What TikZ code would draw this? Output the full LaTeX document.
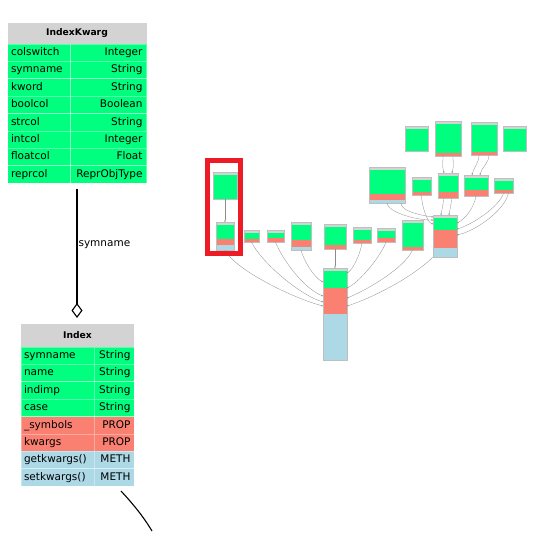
\documentclass[tikz,border=0pt]{standalone}
\usepackage{fontspec}
\setmainfont{DejaVu Sans}
\usetikzlibrary{arrows.meta}
\definecolor{hdrgray}{HTML}{D3D3D3}
\definecolor{attrgreen}{HTML}{00FF7F}
\definecolor{propsalmon}{HTML}{FA8072}
\definecolor{methblue}{HTML}{ADD8E6}
\definecolor{markred}{HTML}{ED1C24}
\newcommand{\rowfont}{\fontsize{10.5}{12}\selectfont}
\newcommand{\headfont}{\bfseries\fontsize{9.2}{11}\selectfont}
\tikzset{
  head/.style={rectangle, fill=hdrgray, anchor=north west, inner sep=0pt, outer sep=0pt, font=\headfont},
  cell/.style={rectangle, inner ysep=0pt, outer sep=0pt, minimum height=17.4pt, anchor=north west,
    text height=8pt, text depth=2.5pt, font=\rowfont, draw=white, draw opacity=0.35, line width=0.8pt},
  lcell/.style={cell, align=left},
  rcell/.style={cell, align=right},
  kwl/.style={lcell, text width=56pt, inner xsep=3.5pt},
  kwr/.style={rcell, text width=68pt, inner xsep=4pt},
  ixl/.style={lcell, text width=67pt, inner xsep=3pt},
  ixr/.style={rcell, text width=33pt, inner xsep=3.5pt},
  attr/.style={fill=attrgreen},
  prop/.style={fill=propsalmon},
  meth/.style={fill=methblue},
  aggr/.style={draw=black, line width=1.1pt, -{Diamond[open, length=15pt, width=11pt]}},
  minibox/.style={rectangle, draw=black!25, line width=0.3pt, inner sep=0pt, outer sep=0pt, anchor=north west},
  minilink/.style={draw=black!45, line width=0.3pt, -{Diamond[open, length=2pt, width=1.6pt]}},
  viewbox/.style={rectangle, draw=markred, line width=5pt, inner sep=0pt},
}
% small class of the overview: name, left, top, width, attr/prop/meth heights
\newcommand{\miniclass}[7]{%
  \fill[hdrgray] (#2,#3) rectangle ++(#4,3);
  \fill[attrgreen] (#2,#3+3) rectangle ++(#4,#5);
  \fill[propsalmon] (#2,#3+3+#5) rectangle ++(#4,#6);
  \fill[methblue] (#2,#3+3+#5+#6) rectangle ++(#4,#7);
  \node[minibox, minimum width=#4pt, minimum height={(3+#5+#6+#7)*1pt}] (#1) at (#2,#3) {};
}

\begin{document}
\begin{tikzpicture}[x=1pt, y=-1pt]
  \fill[white] (0,0) rectangle (536,538);
  \useasboundingbox (0,0) rectangle (536,538);

  % IndexKwarg
  \node[head, minimum width=139pt, minimum height=21.5pt] (kwHead) at (7.5,22.5) {IndexKwarg};
  \node[kwl, attr] (kwL1) at (kwHead.south west) {colswitch};
  \node[kwr, attr] (kwR1) at (kwL1.north east) {Integer};
  \node[kwl, attr] (kwL2) at (kwL1.south west) {symname};
  \node[kwr, attr] (kwR2) at (kwL2.north east) {String};
  \node[kwl, attr] (kwL3) at (kwL2.south west) {kword};
  \node[kwr, attr] (kwR3) at (kwL3.north east) {String};
  \node[kwl, attr] (kwL4) at (kwL3.south west) {boolcol};
  \node[kwr, attr] (kwR4) at (kwL4.north east) {Boolean};
  \node[kwl, attr] (kwL5) at (kwL4.south west) {strcol};
  \node[kwr, attr] (kwR5) at (kwL5.north east) {String};
  \node[kwl, attr] (kwL6) at (kwL5.south west) {intcol};
  \node[kwr, attr] (kwR6) at (kwL6.north east) {Integer};
  \node[kwl, attr] (kwL7) at (kwL6.south west) {floatcol};
  \node[kwr, attr] (kwR7) at (kwL7.north east) {Float};
  \node[kwl, attr] (kwL8) at (kwL7.south west) {reprcol};
  \node[kwr, attr] (kwR8) at (kwL8.north east) {ReprObjType};

  % Index
  \node[head, minimum width=113pt, minimum height=23pt] (ixHead) at (21,324) {Index};
  \node[ixl, attr] (ixL1) at (ixHead.south west) {symname};
  \node[ixr, attr] (ixR1) at (ixL1.north east) {String};
  \node[ixl, attr] (ixL2) at (ixL1.south west) {name};
  \node[ixr, attr] (ixR2) at (ixL2.north east) {String};
  \node[ixl, attr] (ixL3) at (ixL2.south west) {indimp};
  \node[ixr, attr] (ixR3) at (ixL3.north east) {String};
  \node[ixl, attr] (ixL4) at (ixL3.south west) {case};
  \node[ixr, attr] (ixR4) at (ixL4.north east) {String};
  \node[ixl, prop] (ixL5) at (ixL4.south west) {\_symbols};
  \node[ixr, prop] (ixR5) at (ixL5.north east) {PROP};
  \node[ixl, prop] (ixL6) at (ixL5.south west) {kwargs};
  \node[ixr, prop] (ixR6) at (ixL6.north east) {PROP};
  \node[ixl, meth] (ixL7) at (ixL6.south west) {getkwargs()};
  \node[ixr, meth] (ixR7) at (ixL7.north east) {METH};
  \node[ixl, meth] (ixL8) at (ixL7.south west) {setkwargs()};
  \node[ixr, meth] (ixR8) at (ixL8.north east) {METH};

  \path (kwHead.center |- kwL8.south) ++(0,6) coordinate (kwFoot);
  \path (kwFoot |- ixHead.north) ++(0,-6) coordinate (ixTip);
  \draw[aggr] (kwFoot) -- node[pos=0.43, anchor=west, inner sep=1pt, font=\rowfont] {symname} (ixTip);

  \coordinate (offFrom) at (121,491);
  \coordinate (offTo) at (152,531);
  \draw[line width=1.1pt] (offFrom) .. controls (133,504) and (143,516) .. (offTo);

  % overview
  \miniclass{miniKwarg}{213}{172}{24}{24}{0}{0}
  \miniclass{miniIndex}{216}{222}{18}{14}{6}{5}
  \miniclass{miniA}{244}{230}{15}{6}{3}{0}
  \miniclass{miniB}{267}{230}{17}{5}{4}{0}
  \miniclass{miniC}{291}{222}{20}{15}{7}{3}
  \miniclass{miniD}{324}{224}{22}{18}{4}{0}
  \miniclass{miniE}{353}{227}{18}{10}{3}{0}
  \miniclass{miniF}{377}{228}{18}{7}{4}{0}
  \miniclass{miniG}{402}{220}{21}{24}{3}{0}
  \miniclass{miniBig}{323}{268}{24}{17}{26}{46}
  \miniclass{miniH}{405}{126}{23}{22}{0}{0}
  \miniclass{miniJ}{435}{121}{26}{29}{3}{0}
  \miniclass{miniL}{471}{122}{26}{27}{3}{0}
  \miniclass{miniM}{503}{126}{23}{22}{0}{0}
  \miniclass{miniN}{369}{167}{36}{24}{6}{3}
  \miniclass{miniP}{412}{177}{19}{12}{3}{0}
  \miniclass{miniQ}{438}{173}{20}{16}{6}{0}
  \miniclass{miniR}{464}{175}{24}{12}{6}{0}
  \miniclass{miniS}{494}{178}{19}{9}{3}{0}
  \miniclass{miniT}{433}{215}{24}{12}{18}{9}

  \draw[minilink] (miniKwarg.south) -- (miniIndex.north);
  \draw[minilink] (miniIndex.south) .. controls +(10,20) and +(-30,-8) .. ([yshift=-38pt]miniBig.north west);
  \draw[minilink] (miniA.south) .. controls +(8,18) and +(-25,-8) .. ([yshift=-34pt]miniBig.north west);
  \draw[minilink] (miniB.south) .. controls +(6,16) and +(-20,-8) .. ([yshift=-28pt]miniBig.north west);
  \draw[minilink] (miniC.south) .. controls +(3,12) and +(-8,-4) .. ([yshift=-14pt]miniBig.north west);
  \draw[minilink] (miniD.south) -- (miniBig.north);
  \draw[minilink] (miniE.south) .. controls +(-2,12) and +(6,-4) .. ([yshift=-5pt]miniBig.north east);
  \draw[minilink] (miniF.south) .. controls +(-6,16) and +(12,-6) .. ([yshift=-20pt]miniBig.north east);
  \draw[minilink] (miniG.south) .. controls +(-8,18) and +(20,-8) .. ([yshift=-30pt]miniBig.north east);
  \draw[minilink] (miniT.south west) .. controls +(-20,20) and +(25,-8) .. ([yshift=-38pt]miniBig.north east);

  \draw[minilink] ([xshift=-5pt]miniJ.south) .. controls +(0,8) and +(-2,-8) .. ([xshift=-4pt]miniQ.north);
  \draw[minilink] ([xshift=5pt]miniJ.south) .. controls +(0,8) and +(2,-8) .. ([xshift=4pt]miniQ.north);
  \draw[minilink] ([xshift=-5pt]miniL.south) .. controls +(0,8) and +(2,-8) .. ([xshift=-4pt]miniR.north);
  \draw[minilink] ([xshift=5pt]miniL.south) .. controls +(0,8) and +(2,-8) .. ([xshift=4pt]miniR.north);
  \draw[minilink] (miniN.south) .. controls +(0,8) and +(-20,0) .. ([yshift=-5pt]miniT.north west);
  \draw[minilink] ([xshift=-4pt]miniN.south east) .. controls +(0,8) and +(-14,-2) .. ([yshift=-2pt]miniT.north west);
  \draw[minilink] (miniP.south) .. controls +(0,10) and +(-6,-2) .. ([yshift=-9pt]miniT.north west);
  \draw[minilink] ([xshift=-4pt]miniQ.south) -- ([xshift=-4pt]miniT.north);
  \draw[minilink] ([xshift=4pt]miniQ.south) -- ([xshift=4pt]miniT.north);
  \draw[minilink] (miniR.south) .. controls +(-2,12) and +(8,-4) .. ([yshift=-8pt]miniT.north east);
  \draw[minilink] (miniS.south) .. controls +(-4,14) and +(14,-4) .. ([yshift=-14pt]miniT.north east);
  \draw[minilink] ([xshift=5pt]miniS.south) .. controls +(-4,18) and +(18,-4) .. ([yshift=-20pt]miniT.north east);

  \node[viewbox, minimum width=33pt, minimum height=93pt] (view) at (224,207) {};
\end{tikzpicture}
\end{document}
